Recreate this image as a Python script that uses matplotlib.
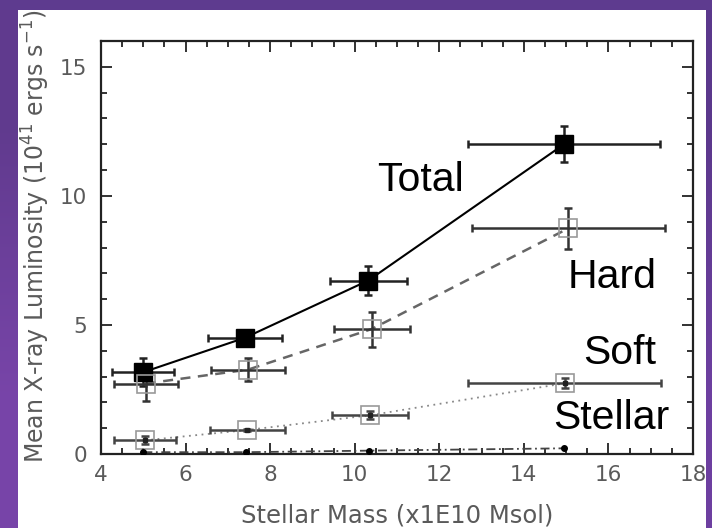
import numpy as np
import matplotlib
matplotlib.use("Agg")
import matplotlib.pyplot as plt
from matplotlib.patches import Rectangle
from matplotlib.ticker import MultipleLocator

# ---- data ----
total_x = [5.0, 7.4, 10.32, 14.95]
total_xerr = [0.73, 0.87, 0.91, 2.28]
total_y = [3.17, 4.5, 6.72, 12.0]
total_yerr = [0.55, 0.2, 0.55, 0.7]

hard_x = [5.06, 7.48, 10.4, 15.05]
hard_xerr = [0.75, 0.87, 0.9, 2.28]
hard_y = [2.73, 3.27, 4.84, 8.74]
hard_yerr = [0.68, 0.45, 0.68, 0.78]

soft_x = [5.04, 7.46, 10.36, 14.97]
soft_xerr = [0.74, 0.88, 0.9, 2.28]
soft_y = [0.53, 0.93, 1.5, 2.74]
soft_yerr = [0.15, 0.05, 0.15, 0.2]

stellar_x = [5.0, 7.42, 10.33, 14.95]
stellar_y = [0.07, 0.07, 0.13, 0.22]

xticks = [4, 6, 8, 10, 12, 14, 16, 18]
yticks = [0, 5, 10, 15]

labels = ["Total", "Hard", "Soft", "Stellar"]

W, H = 712, 528
fig = plt.figure(figsize=(W / 100, H / 100), dpi=100)

# purple slide background (gradient)
bg = fig.add_axes([0, 0, 1, 1], zorder=-3)
grad = np.array([[[0.38, 0.23, 0.56], [0.36, 0.22, 0.55]],
                 [[0.47, 0.27, 0.66], [0.43, 0.25, 0.63]]])
bg.imshow(grad, extent=[0, 1, 0, 1], aspect="auto", interpolation="bilinear")
bg.set_axis_off()

# white panel of the embedded figure
fig.add_artist(Rectangle((18 / W, 0), (706 - 18) / W, 1 - 10 / H,
                         transform=fig.transFigure, facecolor="white",
                         edgecolor="none", zorder=-2))

ax = fig.add_axes([101 / W, 1 - 454 / H, (693 - 101) / W, (454 - 41) / H])
ax.set_facecolor("white")
ax.set_xlim(4, 18)
ax.set_ylim(0, 16)

# lines
ax.plot(total_x, total_y, color="black", lw=1.5, zorder=3)
ax.plot(hard_x, hard_y, color="#666666", lw=1.8, ls=(0, (4, 3)), zorder=3)
ax.plot(soft_x, soft_y, color="#888888", lw=1.3, ls=(0, (1, 2.5)), zorder=3)
ax.plot(stellar_x, stellar_y, color="#444444", lw=1.3, ls=(0, (5, 2, 1, 2)), zorder=3)

# error bars
ax.errorbar(total_x, total_y, xerr=total_xerr, yerr=total_yerr, fmt="none",
            ecolor="#222222", elinewidth=1.8, capsize=3, capthick=1.8, zorder=4)
ax.errorbar(hard_x, hard_y, xerr=hard_xerr, yerr=hard_yerr, fmt="none",
            ecolor="#333333", elinewidth=1.8, capsize=3, capthick=1.8, zorder=4)
ax.errorbar(soft_x, soft_y, xerr=soft_xerr, yerr=soft_yerr, fmt="none",
            ecolor="#444444", elinewidth=1.8, capsize=3, capthick=1.8, zorder=4)

# markers
ax.plot(total_x, total_y, "s", color="black", ms=12.5, zorder=5)
ax.plot(hard_x, hard_y, "s", mfc="none", mec="#999999", mew=1.2, ms=12.5, zorder=5)
ax.plot(soft_x, soft_y, "s", mfc="none", mec="#999999", mew=1.2, ms=12.5, zorder=5)
ax.plot(soft_x, soft_y, "s", color="#222222", ms=3.5, zorder=5)
ax.plot(stellar_x, stellar_y, "o", color="black", ms=4, zorder=5)

# annotations
tkw = dict(fontsize=29.5, family=["Liberation Sans", "DejaVu Sans"], color="black",
           va="baseline", zorder=6)
ax.text(10.52, 10.19, labels[0], ha="left", **tkw)
ax.text(17.14, 6.45, labels[1], ha="right", **tkw)
ax.text(17.14, 3.47, labels[2], ha="right", **tkw)
ax.text(17.45, 0.95, labels[3], ha="right", **tkw)

# ticks
ax.set_xticks(xticks)
ax.set_yticks(yticks)
ax.xaxis.set_minor_locator(MultipleLocator(0.5))
ax.yaxis.set_minor_locator(MultipleLocator(1))
ax.tick_params(which="both", direction="in", top=True, right=True,
               color="#222222", width=1.3)
ax.tick_params(which="major", length=8, labelsize=15.5, labelcolor="#5a5a5a")
ax.tick_params(which="minor", length=4)
ax.tick_params(axis="x", which="major", pad=8)
ax.tick_params(axis="y", which="major", pad=10)
for s in ax.spines.values():
    s.set_color("#222222")
    s.set_linewidth(1.6)

fig.text(397 / W, 1 - 515 / H, "Stellar Mass (x1E10 Msol)", ha="center", va="center",
         fontsize=17.5, color="#5a5a5a")
fig.text(36 / W, 1 - 236 / H, "Mean X-ray Luminosity (10$^{41}$ ergs s$^{-1}$)",
         rotation=90, ha="center", va="center", rotation_mode="anchor",
         fontsize=17, color="#5a5a5a")

# purple strip at the top covering the clipped part of the figure
fig.add_artist(Rectangle((0, 1 - 10 / H), 1, 10 / H, transform=fig.transFigure,
                         facecolor=(0.37, 0.23, 0.56), edgecolor="none", zorder=10))

fig.savefig("out.png", dpi=100)
